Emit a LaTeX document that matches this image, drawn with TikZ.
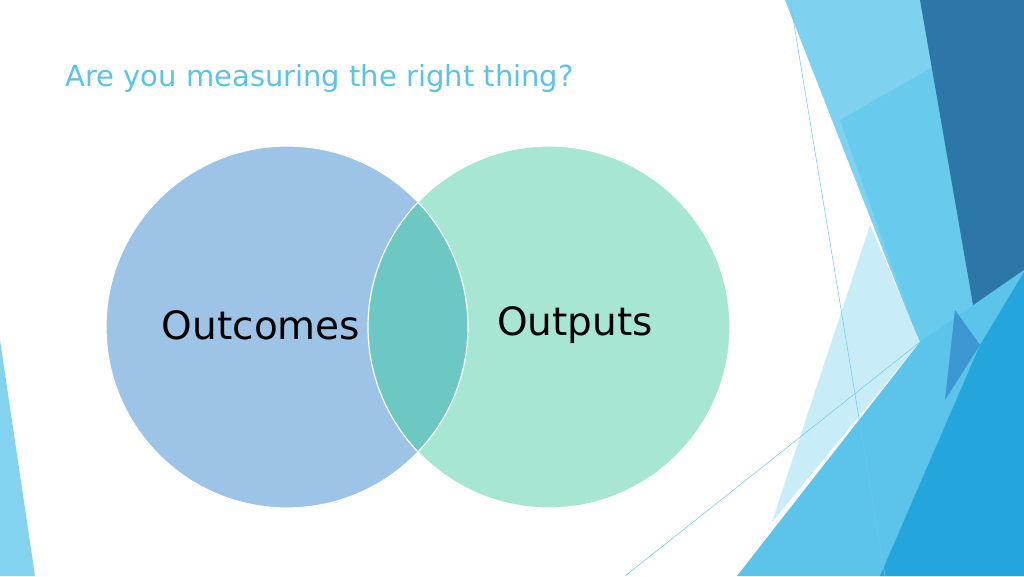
\documentclass[tikz,border=0pt]{standalone}
\usepackage{fontspec}
\setmainfont{DejaVu Sans}
\begin{document}
\begin{tikzpicture}[x=1pt,y=-1pt,
  lbl/.style={font=\fontsize{39}{46}\selectfont,text=black}]
\definecolor{ttl}{HTML}{5BC3E8}
\definecolor{lblue}{HTML}{9DC3E6}
\definecolor{lgreen}{HTML}{A6E6D2}
\definecolor{mix}{HTML}{6DC8C4}
\useasboundingbox (0,0) rectangle (1024,576);
\fill[white] (0,0) rectangle (1024,576);
% decorations
\fill[color={rgb,255:red,126;green,210;blue,240}] (785,0) -- (922,0) -- (982,345) -- (920,345) -- cycle;
\fill[color={rgb,255:red,104;green,202;blue,236}] (840,120) -- (945,60) -- (982,345) -- (920,345) -- cycle;
\fill[color={rgb,255:red,200;green,236;blue,248}] (870,225) -- (920,342) -- (772,522) -- cycle;
\fill[color={rgb,255:red,45;green,118;blue,168}] (920,0) -- (1024,0) -- (1024,272) -- (980,345) -- cycle;
\fill[color={rgb,255:red,92;green,196;blue,234}] (920,342) -- (1024,270) -- (1024,576) -- (737,576) -- cycle;
\fill[color={rgb,255:red,36;green,166;blue,220}] (980,345) -- (1024,272) -- (1024,576) -- (880,576) -- cycle;
\fill[color={rgb,255:red,60;green,150;blue,210}] (955,310) -- (980,345) -- (945,400) -- cycle;
\draw[color={rgb,255:red,110;green,200;blue,235},line width=0.5pt] (790,0) -- (885,576);
\draw[color={rgb,255:red,110;green,200;blue,235},line width=0.5pt] (625,576) -- (920,342);
\fill[color={rgb,255:red,130;green,210;blue,240}] (0,340) -- (35,576) -- (0,576) -- cycle;
% title
\node[anchor=west,text=ttl,font=\fontsize{29}{34}\selectfont] (title) at (62,78) {Are you measuring the right thing?};
% venn
\fill[lblue] (287,327) circle (181pt);
\fill[lgreen] (549,327) circle (181pt);
\begin{scope}
\clip (287,327) circle (181pt);
\fill[mix] (549,327) circle (181pt);
\end{scope}
\draw[white,line width=1.2pt] (287,327) circle (181pt);
\draw[white,line width=1.2pt] (549,327) circle (181pt);
\node[lbl] (t1) at (261,325) {Outcomes};
\node[lbl] (t2) at (575,325) {Outputs};
\end{tikzpicture}
\end{document}
